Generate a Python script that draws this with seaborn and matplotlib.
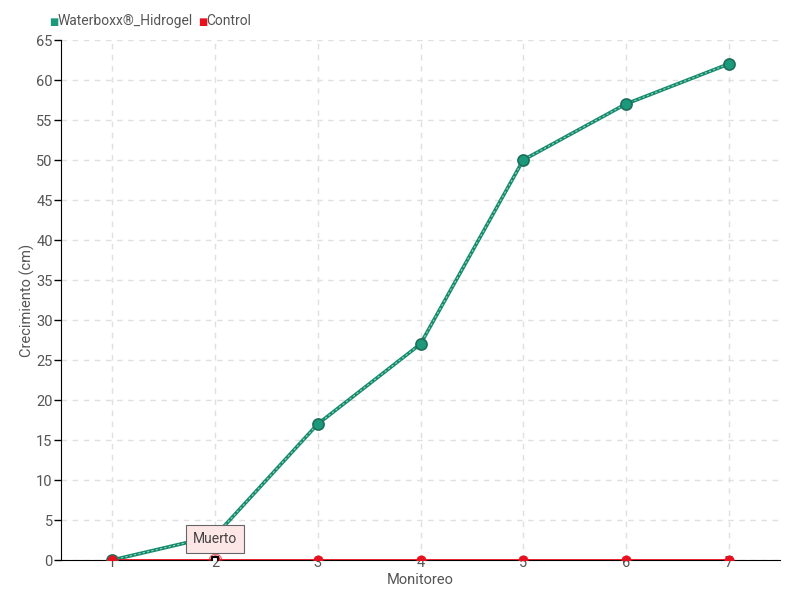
import matplotlib
matplotlib.use("Agg")
import matplotlib.pyplot as plt
import seaborn as sns
import pandas as pd

monitoreo = [1, 2, 3, 4, 5, 6, 7]
waterboxx = [0, 3, 17, 27, 50, 57, 62]
control = [0, 0, 0, 0, 0, 0, 0]
anotacion_x = 2
anotacion_texto = "Muerto"

green = "#1a9a7a"
red = "#e8101e"
textc = "#555555"

sns.set_style("white")
plt.rcParams["font.family"] = ["Roboto", "DejaVu Sans"]

df = pd.DataFrame({
    "Monitoreo": monitoreo * 2,
    "valor": waterboxx + control,
    "serie": ["Waterboxx®_Hidrogel"] * 7 + ["Control"] * 7,
})

fig = plt.figure(figsize=(8, 6), dpi=100)
ax = fig.add_axes([61 / 800, 40 / 600, (780 - 61) / 800, 520 / 600])

sns.lineplot(data=df, x="Monitoreo", y="valor", hue="serie",
             palette={"Waterboxx®_Hidrogel": green, "Control": red},
             linewidth=2.6, legend=False, ax=ax, zorder=3)
for line in ax.lines:
    if line.get_color() == red:
        line.set_linewidth(1.3)
    else:
        line.set_color("#178a6c")

# inner lighter stroke to mimic the double line
sns.lineplot(x=monitoreo, y=waterboxx, color="#8fd6c3", linewidth=0.8,
             linestyle=(0, (2, 2)), ax=ax, zorder=3.5)

# markers on top
sns.scatterplot(x=monitoreo, y=waterboxx, color=green, edgecolor="#1e6e5a",
                s=64, linewidth=1.2, ax=ax, zorder=4)
sns.scatterplot(x=monitoreo, y=control, color=red, edgecolor=red,
                s=45, linewidth=0.5, ax=ax, zorder=4)

ax.plot([anotacion_x], [0], marker="s", markersize=5, markerfacecolor="white",
        markeredgecolor="black", markeredgewidth=1.5, zorder=5)
ax.plot([anotacion_x], [0], marker="o", markersize=9, markerfacecolor="none",
        markeredgecolor=red, markeredgewidth=1, alpha=0.6, zorder=5)
ax.annotate(anotacion_texto, xy=(anotacion_x, 0), xytext=(0, 15),
            textcoords="offset points", ha="center", va="center",
            fontsize=10, color="#444444",
            bbox=dict(boxstyle="square,pad=0.5", fc="#fde6e6", ec="#666666", lw=0.8),
            zorder=6)

ax.set_xlim(0.5, 7.5)
ax.set_ylim(0, 65)
ax.set_xticks(monitoreo)
ax.set_yticks(range(0, 66, 5))
ax.grid(True, color="#e0e0e0", linestyle=(0, (4, 4)), linewidth=1)
ax.set_axisbelow(True)
for s in ["top", "right"]:
    ax.spines[s].set_visible(False)
ax.spines["left"].set_color("black")
ax.spines["bottom"].set_color("black")
ax.tick_params(axis="y", direction="out", length=5, width=1, color="black",
               labelcolor=textc, labelsize=10.5, pad=1, left=True)
ax.tick_params(axis="x", length=0, labelcolor=textc, labelsize=10.5, pad=-3)
ax.set_xlabel("Monitoreo", color=textc, fontsize=10.5, labelpad=2)
ax.set_ylabel("Crecimiento (cm)", color=textc, fontsize=10.5)
ax.yaxis.set_label_coords(-26 / 719, 0.5)

# legend
fig.text(49 / 800, 1 - 22 / 600, "■", color=green, fontsize=7, va="center", ha="left")
fig.text(58 / 800, 1 - 21 / 600, "Waterboxx®_Hidrogel", color=textc, fontsize=10,
         va="center", ha="left")
fig.text(198 / 800, 1 - 22 / 600, "■", color=red, fontsize=7, va="center", ha="left")
fig.text(206 / 800, 1 - 21 / 600, "Control", color=textc, fontsize=10,
         va="center", ha="left")

fig.savefig("out.png", dpi=100)
